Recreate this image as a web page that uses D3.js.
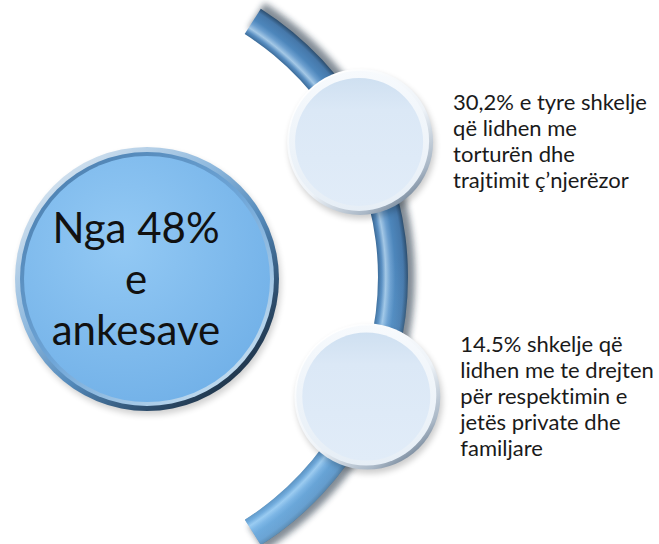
<!DOCTYPE html>
<html>
<head>
<meta charset="utf-8">
<script src="https://cdn.jsdelivr.net/npm/d3@7"></script>
<style>
  body { margin: 0; background: #fff; }
  svg { display: block; font-family: Lato, Carlito, Calibri, sans-serif;
        font-variant-ligatures: none; font-feature-settings: "liga" 0, "clig" 0; }
</style>
</head>
<body>
<svg width="659" height="544"></svg>
<script>
var svg = d3.select("svg");
var width = 659;
var height = 544;

// Diagram content
var mainLines = ["Nga 48%", "e", "ankesave"];
var itemNames = ["tortura", "privatesia"];
var itemLines = [
    ["30,2% e tyre shkelje", "që lidhen me", "torturën dhe", "trajtimit ç’njerëzor"],
    ["14.5% shkelje që", "lidhen me te drejten", "për respektimin e", "jetës private dhe", "familjare"]
];

// geometry of the curved band
var arcCenter = { x: 90, y: 277 };
var bandRadius = 303;
var bandStart = 0.567;   // radians, clockwise from 12 o'clock
var bandEnd = 2.574;

// where the two small circles sit on the band
var itemAngle = d3.scalePoint()
    .domain(itemNames)
    .range([1.107, 1.978]);

var big = { x: 147, y: 279, r: 132 };
var smallR = 73;

var defs = svg.append("defs");

// soft shadow
defs.append("filter").attr("id", "blur")
    .attr("x", "-20%").attr("y", "-20%").attr("width", "140%").attr("height", "140%")
    .append("feGaussianBlur").attr("stdDeviation", 3);

function linear(id, x1, y1, x2, y2, stops) {
    var g = defs.append("linearGradient").attr("id", id)
        .attr("x1", x1).attr("y1", y1).attr("x2", x2).attr("y2", y2);
    stops.forEach(s => g.append("stop").attr("offset", s[0]).attr("stop-color", s[1]));
    return g;
}

// band cross section: radial gradient across the ring (group is centred on the arc centre)
var bandGrad = defs.append("radialGradient").attr("id", "bandGrad")
    .attr("gradientUnits", "userSpaceOnUse")
    .attr("cx", 0).attr("cy", 0).attr("r", bandRadius + 15);
[[0.905, "#3a6a98"], [0.918, "#5a8fc2"], [0.93, "#a4c8e6"], [0.945, "#6c9fcf"],
 [0.96, "#4d86bb"], [0.985, "#4678aa"], [1, "#2c4d6d"]]
    .forEach(s => bandGrad.append("stop").attr("offset", s[0]).attr("stop-color", s[1]));

// lower part of the band turns lighter
var bandTint = defs.append("linearGradient").attr("id", "bandTint")
    .attr("gradientUnits", "userSpaceOnUse")
    .attr("x1", 0).attr("y1", -20).attr("x2", 0).attr("y2", 255);
bandTint.append("stop").attr("offset", 0).attr("stop-color", "#8fd0ff").attr("stop-opacity", 0);
bandTint.append("stop").attr("offset", 1).attr("stop-color", "#8fd0ff").attr("stop-opacity", 0.5);

linear("bigRim", "15%", "10%", "85%", "90%",
    [[0, "#d3e2ef"], [0.35, "#8fb9de"], [0.6, "#5389ba"], [0.85, "#2d4d6c"], [1, "#1e3348"]]);
linear("bigInner", "15%", "10%", "85%", "90%",
    [[0, "#4f83b3"], [0.5, "#6fa6d8"], [1, "#c3dcef"]]);
var bigFace = defs.append("radialGradient").attr("id", "bigFace")
    .attr("cx", "40%").attr("cy", "35%").attr("r", "70%");
bigFace.append("stop").attr("offset", 0).attr("stop-color", "#93c9f4");
bigFace.append("stop").attr("offset", 1).attr("stop-color", "#72b1e8");

linear("smallRim", "20%", "10%", "85%", "95%",
    [[0, "#ffffff"], [0.55, "#eef3f8"], [0.85, "#a9b7c6"], [1, "#66788c"]]);
linear("smallRim2", "0%", "0%", "0%", "100%",
    [[0, "#f7fafd"], [1, "#e6eef6"]]);
linear("smallFace", "0%", "0%", "0%", "100%",
    [[0, "#cfe0f1"], [0.25, "#dbe8f6"], [1, "#e1ecf8"]]);

// ---- curved band
var band = d3.arc()
    .startAngle(bandStart)
    .endAngle(bandEnd);

var bandG = svg.append("g")
    .attr("transform", "translate(" + arcCenter.x + "," + arcCenter.y + ")");

bandG.append("path")
    .attr("d", band({ innerRadius: bandRadius - 8, outerRadius: bandRadius + 22 }))
    .attr("fill", "#1f2f40")
    .attr("opacity", 0.55)
    .attr("filter", "url(#blur)");

bandG.append("path")
    .attr("d", band({ innerRadius: bandRadius - 15, outerRadius: bandRadius + 15 }))
    .attr("fill", "url(#bandGrad)");

bandG.append("path")
    .attr("d", band({ innerRadius: bandRadius - 15, outerRadius: bandRadius + 15 }))
    .attr("fill", "url(#bandTint)");

// ---- big circle
var bigG = svg.append("g")
    .attr("transform", "translate(" + big.x + "," + big.y + ")");

bigG.append("circle").attr("cx", 2).attr("cy", 4).attr("r", big.r)
    .attr("fill", "#000").attr("opacity", 0.18).attr("filter", "url(#blur)");
bigG.append("circle").attr("r", big.r).attr("fill", "url(#bigRim)");
bigG.append("circle").attr("r", big.r - 5).attr("fill", "url(#bigInner)");
bigG.append("circle").attr("r", big.r - 9).attr("fill", "url(#bigFace)");

bigG.selectAll("text.main")
    .data(mainLines)
    .enter()
    .append("text")
    .attr("class", "main")
    .attr("x", -11)
    .attr("y", (d, i) => -36 + i * 51)
    .attr("text-anchor", "middle")
    .attr("font-size", "42px")
    .attr("fill", "#111")
    .text(d => d);

// ---- small circles + their text
var items = svg.selectAll("g.item")
    .data(itemNames)
    .enter()
    .append("g")
    .attr("class", "item")
    .attr("transform", d => {
        var a = itemAngle(d);
        var x = arcCenter.x + 302 * Math.sin(a);
        var y = arcCenter.y - 302 * Math.cos(a);
        return "translate(" + x + "," + y + ")";
    });

items.append("circle").attr("cx", 2).attr("cy", 4).attr("r", smallR)
    .attr("fill", "#000").attr("opacity", 0.2).attr("filter", "url(#blur)");
items.append("circle").attr("r", smallR).attr("fill", "url(#smallRim)");
items.append("circle").attr("cx", -1).attr("cy", -1).attr("r", smallR - 3).attr("fill", "url(#smallRim2)");
items.append("circle").attr("cx", -1).attr("cy", 0).attr("r", smallR - 9).attr("fill", "url(#smallFace)");

items.each(function(d, k) {
    var lines = itemLines[k];
    var lh = 26;
    d3.select(this).selectAll("text")
        .data(lines)
        .enter()
        .append("text")
        .attr("x", 93)
        .attr("y", (t, i) => -(lines.length - 1) * lh / 2 + 7 + i * lh)
        .attr("font-size", "22px")
        .attr("fill", "#1a1a1a")
        .text(t => t);
});
</script>
</body>
</html>
